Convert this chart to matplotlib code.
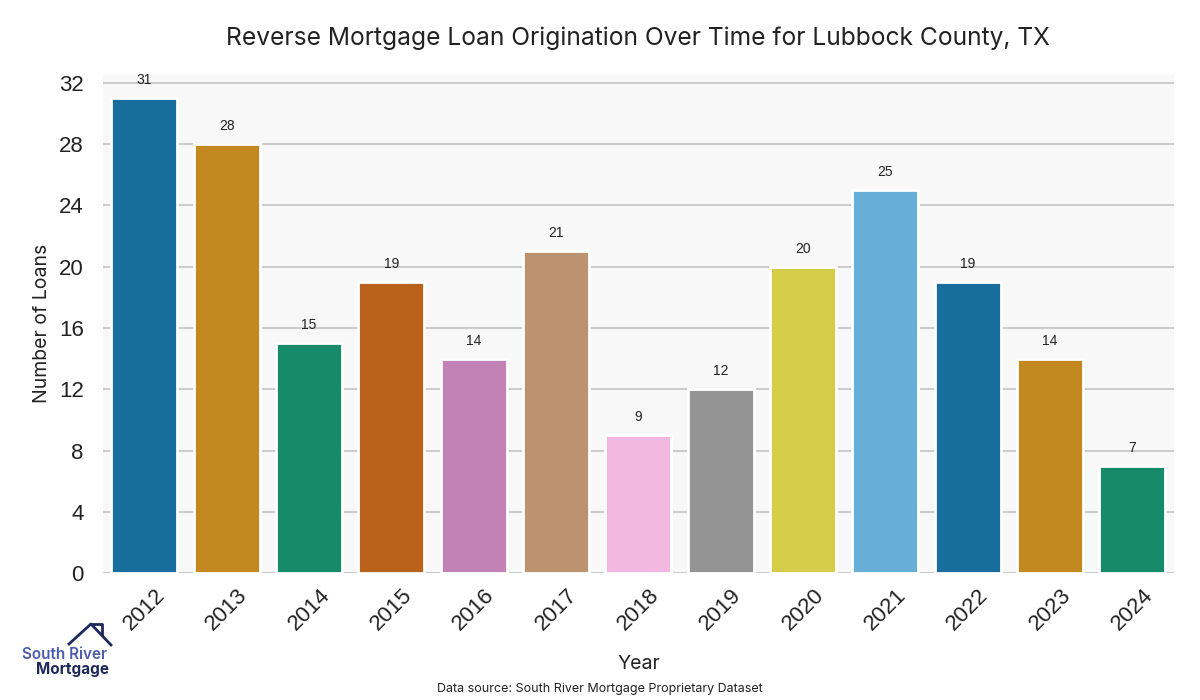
import matplotlib
matplotlib.use("Agg")
import matplotlib.pyplot as plt
import seaborn as sns
import pandas as pd

years = ["2012", "2013", "2014", "2015", "2016", "2017", "2018",
         "2019", "2020", "2021", "2022", "2023", "2024"]
loans = [31, 28, 15, 19, 14, 21, 9, 12, 20, 25, 19, 14, 7]

df = pd.DataFrame({"Year": years, "Loans": loans})

fig = plt.figure(figsize=(12, 7), dpi=100)
ax = fig.add_axes([0.086, 0.181, 0.892, 0.713])
ax.set_facecolor("#f8f8f8")

sns.barplot(data=df, x="Year", y="Loans", hue="Year", palette="colorblind",
            legend=False, ax=ax, edgecolor="white", linewidth=2, zorder=3)

for c in ax.containers:
    ax.bar_label(c, padding=8, fontsize=10, color="#222222",
                 family="Liberation Sans")

ax.set_yticks(range(0, 33, 4))
ax.set_ylim(0, 32.55)
ax.set_xlim(-0.5, 12.5)
ax.grid(axis="y", color="#cccccc", linewidth=1.5, zorder=0)
ax.set_axisbelow(True)
for s in ax.spines.values():
    s.set_visible(False)
ax.tick_params(length=0)
ax.tick_params(axis="y", labelsize=16, pad=14)
ax.tick_params(axis="x", labelsize=16, rotation=45, pad=8)
for t in ax.get_xticklabels() + ax.get_yticklabels():
    t.set_family("Liberation Sans")
    t.set_color("#222222")

ax.set_xlabel("Year", fontsize=14, family="Inter", color="#222222", labelpad=15)
ax.set_ylabel("Number of Loans", fontsize=14, family="Inter", color="#222222",
              labelpad=6)
fig.suptitle("Reverse Mortgage Loan Origination Over Time for Lubbock County, TX",
             fontsize=17.7, family="Inter", color="#222222", x=0.532, y=0.962)
fig.text(0.5, 0.011, "Data source: South River Mortgage Proprietary Dataset",
         ha="center", fontsize=9, family="Inter", color="#222222")

# logo
fig.text(0.018, 0.058, "South River", fontsize=11, family="Inter",
         weight="semibold", color="#4a5cab")
fig.text(0.03, 0.037, "Mortgage", fontsize=11, family="Inter",
         weight="bold", color="#1f2a5c")
fig.lines.append(plt.Line2D([0.0575, 0.0758, 0.0925],
                            [0.0800, 0.1086, 0.0786],
                            transform=fig.transFigure, color="#1f2a5c", lw=2))
fig.lines.append(plt.Line2D([0.0758, 0.0850, 0.0850],
                            [0.1086, 0.1086, 0.0930],
                            transform=fig.transFigure, color="#1f2a5c", lw=2))

fig.savefig("out.png", dpi=100)
